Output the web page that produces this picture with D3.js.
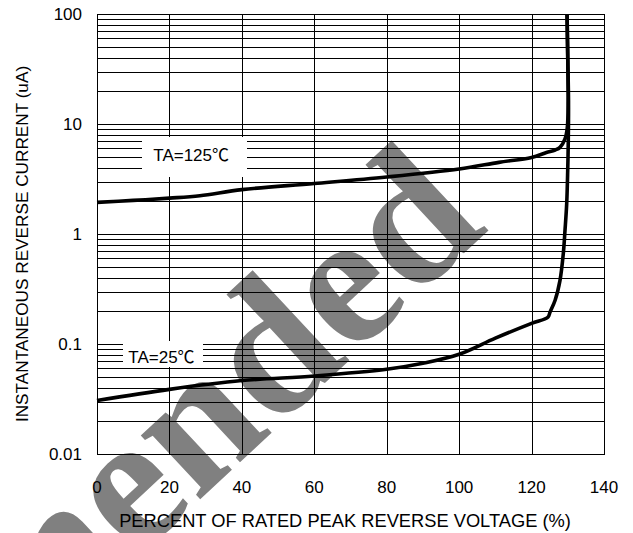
<!DOCTYPE html>
<html>
<head>
<meta charset="utf-8">
<script src="https://cdn.jsdelivr.net/npm/d3@7"></script>
<style>
  html, body { margin: 0; padding: 0; background: #fff; }
  svg { display: block; }
  text { font-family: "Liberation Sans", Arial, "Noto Sans CJK SC", sans-serif; fill: #000; }
</style>
</head>
<body>
<svg id="chart" width="633" height="533"></svg>
<script>
// ---- data ----
const xTicks = [0, 20, 40, 60, 80, 100, 120, 140];
const yTicks = [0.01, 0.1, 1, 10, 100];
const yTickLabels = ["0.01", "0.1", "1", "10", "100"];

// TA = 125 C
const t125X = [0, 10, 20, 28.4, 40, 60, 80, 100, 111, 120, 124.1, 126.5, 127.85, 129.23, 129.87, 130.1, 130.0, 129.8];
const t125Y = [1.94, 2.02, 2.12, 2.23, 2.53, 2.88, 3.3, 3.9, 4.48, 4.97, 5.5, 5.8, 6.13, 7.31, 9.31, 16.3, 37.9, 100];

// TA = 25 C
const t25X = [0, 20, 40, 60, 80, 90, 100, 110, 120, 124.5, 125.1, 126.5, 127.85, 128.76, 129.23, 129.7, 129.98, 130.14, 130.2, 130.0, 129.8];
const t25Y = [0.0306, 0.0387, 0.0465, 0.0512, 0.0589, 0.0668, 0.0806, 0.113, 0.154, 0.175, 0.195, 0.25, 0.379, 0.663, 1.08, 1.89, 3.79, 7.11, 16.4, 37.9, 100];

const labels = [
  { text: "TA=125\u2103", x: 26.0, y: 5.26 },
  { text: "TA=25\u2103", x: 17.8, y: 0.0757 }
];

const xTitle = "PERCENT OF RATED PEAK REVERSE VOLTAGE (%)";
const yTitle = "INSTANTANEOUS REVERSE CURRENT (uA)";
const watermark = "Recommended";

// ---- layout ----
const svg = d3.select("#chart");
const L = 97, R = 604, T = 14, B = 454;
const x = d3.scaleLinear().domain([0, 140]).range([L, R]);
const y = d3.scaleLog().domain([0.01, 100]).range([B, T]);

// watermark (behind everything)
svg.append("text")
  .attr("transform", "translate(490,229) rotate(-43)")
  .attr("text-anchor", "end")
  .style("font-family", "'Liberation Serif', 'DejaVu Serif', serif")
  .style("font-weight", "bold")
  .style("font-size", "190px")
  .style("fill", "#808080")
  .text(watermark);

// grid
const hLines = [];
[0.01, 0.1, 1, 10].forEach(d => { for (let k = 1; k <= 9; k++) hLines.push(k * d); });
hLines.push(100);

const grid = svg.append("g").attr("shape-rendering", "crispEdges");
grid.selectAll("line.h").data(hLines).join("line")
  .attr("x1", L).attr("x2", R)
  .attr("y1", d => Math.round(y(d)) + 0.5).attr("y2", d => Math.round(y(d)) + 0.5)
  .attr("stroke", "#000").attr("stroke-width", 1);
grid.selectAll("line.v").data(xTicks).join("line")
  .attr("y1", T).attr("y2", B)
  .attr("x1", d => Math.round(x(d)) + 0.5).attr("x2", d => Math.round(x(d)) + 0.5)
  .attr("stroke", "#000").attr("stroke-width", 1);
grid.append("rect")
  .attr("x", L + 0.5).attr("y", T + 0.5).attr("width", R - L).attr("height", B - T)
  .attr("fill", "none").attr("stroke", "#000");

// label boxes
const boxes = [
  { x0: 142, y0: 137, x1: 247, y1: 177 },
  { x0: 123, y0: 341, x1: 203, y1: 367 }
];
svg.selectAll("rect.lbl").data(boxes).join("rect")
  .attr("x", d => d.x0).attr("y", d => d.y0)
  .attr("width", d => d.x1 - d.x0).attr("height", d => d.y1 - d.y0)
  .attr("fill", "#fff");

svg.selectAll("text.lbl").data(labels).join("text")
  .attr("x", d => x(d.x)).attr("y", d => y(d.y))
  .attr("dy", "0.35em")
  .attr("text-anchor", "middle")
  .style("font-size", "17px")
  .text(d => d.text);

// curves
const line = d3.line()
  .x(d => x(d[0])).y(d => y(d[1]))
  .curve(d3.curveCatmullRom.alpha(0.5));
[[t125X, t125Y], [t25X, t25Y]].forEach(([xs, ys]) => {
  svg.append("path")
    .datum(xs.map((v, i) => [v, ys[i]]))
    .attr("d", line)
    .attr("fill", "none")
    .attr("stroke", "#000")
    .attr("stroke-width", 3.6)
    .attr("stroke-linejoin", "round");
});

// tick labels
svg.selectAll("text.xt").data(xTicks).join("text")
  .attr("x", d => x(d)).attr("y", 493)
  .attr("text-anchor", "middle")
  .style("font-size", "17px")
  .text(d => d);
svg.selectAll("text.yt").data(yTicks).join("text")
  .attr("x", 82).attr("y", d => y(d))
  .attr("dy", "0.35em")
  .attr("text-anchor", "end")
  .style("font-size", "17px")
  .text((d, i) => yTickLabels[i]);

// titles
svg.append("text")
  .attr("x", 345).attr("y", 527)
  .attr("text-anchor", "middle")
  .style("font-size", "18.3px")
  .text(xTitle);
svg.append("text")
  .attr("transform", "translate(28,244) rotate(-90)")
  .attr("text-anchor", "middle")
  .style("font-size", "17.2px")
  .text(yTitle);
</script>
</body>
</html>
